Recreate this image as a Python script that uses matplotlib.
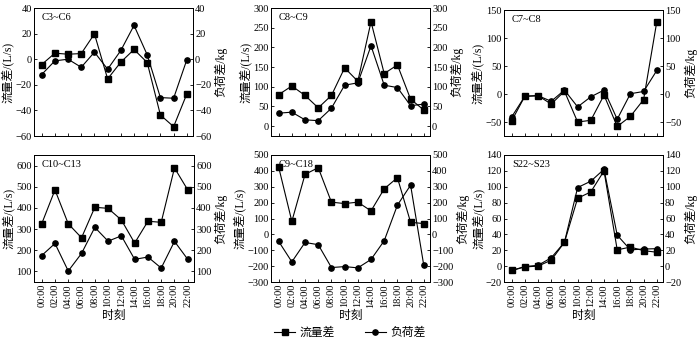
import matplotlib
matplotlib.use("Agg")
import matplotlib.pyplot as plt
from matplotlib.lines import Line2D
import numpy as np

plt.rcParams['font.family'] = ['Liberation Serif', 'Noto Sans CJK SC']
plt.rcParams['axes.unicode_minus'] = True

hours = ["00:00", "02:00", "04:00", "06:00", "08:00", "10:00",
         "12:00", "14:00", "16:00", "18:00", "20:00", "22:00"]

names = ["C3~C6", "C8~C9", "C7~C8", "C10~C13", "C9~C18", "S22~S23"]

flow_c3c6 = [-4.2, 4.7, 3.9, 4.4, 19.8, -15.4, -2.3, 7.6, -2.6, -43.6, -52.7, -27.2]
load_c3c6 = [-12, -1.3, 0, -6.3, 5.5, -7.8, 6.8, 26.4, 3.4, -30, -30.5, -0.5]

flow_c8c9 = [80, 102, 78, 46.5, 78, 148, 114, 265, 133.5, 155.5, 68.5, 41]
load_c8c9 = [33, 35.5, 16, 14, 45.6, 104, 110, 204, 104, 98, 52, 56]

flow_c7c8 = [-48, -4, -3, -18, 5, -50, -47, -2, -58, -40, -10, 129]
load_c7c8 = [-41, -4, -3, -13, 7, -23, -5, 7, -45, 0.5, 4.5, 42]

flow_c10c13 = [325, 485, 325, 259, 403, 398, 343, 234, 337, 332, 589, 485]
load_c10c13 = [175, 232, 102, 185, 308, 243, 268, 157, 168, 116, 242, 157]

flow_c9c18 = [424, 82, 378, 420, 203, 194, 203, 148, 287, 357, 76, 68]
load_c9c18 = [-44, -173, -51, -65, -209, -203, -211, -158, -40, 184, 310, -196]

flow_s22s23 = [-5.5, -1, 0, 7.5, 30, 85.5, 93.5, 120, 20.5, 24, 19.5, 17.5]
load_s22s23 = [-5.5, -0.5, 1, 10.5, 30, 99, 107, 122, 39, 20.5, 21.5, 22]

flows = [flow_c3c6, flow_c8c9, flow_c7c8, flow_c10c13, flow_c9c18, flow_s22s23]
loads = [load_c3c6, load_c8c9, load_c7c8, load_c10c13, load_c9c18, load_s22s23]

ylims = [(-60, 40), (-25, 300), (-75, 150), (50, 650), (-300, 500), (-20, 140)]
yticks = [np.arange(-60, 41, 20), np.arange(0, 301, 50), np.arange(-50, 151, 50),
          np.arange(100, 601, 100), np.arange(-300, 501, 100), np.arange(-20, 141, 20)]

# axes boxes in pixels: left, right, top, bottom
W, H = 700, 341
boxes = [(34, 193, 8, 136), (271, 430, 8, 136), (504, 663, 10, 136),
         (34, 194, 155, 282), (271, 430, 155, 282), (504, 663, 155, 282)]

fig = plt.figure(figsize=(7, 3.41), dpi=100)
x = np.arange(len(hours))
fs = 7.5
lfs = 8.5

for i in range(6):
    l, r, t, b = boxes[i]
    ax = fig.add_axes([l / W, 1 - b / H, (r - l) / W, (b - t) / H])
    ax2 = ax.twinx()
    ax.plot(x, flows[i], '-s', color='black', lw=0.8, ms=3.8)
    ax.plot(x, loads[i], '-o', color='black', lw=0.8, ms=3.8)
    ax.set_xlim(-0.58, 11.47)
    ax.set_ylim(*ylims[i])
    ax2.set_ylim(*ylims[i])
    ax.set_yticks(yticks[i])
    ax2.set_yticks(yticks[i])
    ax.set_xticks(x)
    ax.tick_params(direction='in', labelsize=fs, length=2.5, width=0.6, pad=1.5)
    ax2.tick_params(direction='in', labelsize=fs, length=2.5, width=0.6, pad=1.5)
    ax.set_ylabel("流量差/(L/s)", fontsize=lfs, labelpad=1)
    ax2.set_ylabel("负荷差/kg", fontsize=lfs, labelpad=2)
    ax.text(0.05, 0.96, names[i], transform=ax.transAxes, fontsize=fs,
            va='top', ha='left')
    for a in (ax, ax2):
        for s in a.spines.values():
            s.set_linewidth(0.7)
    if i < 3:
        ax.set_xticklabels([])
    else:
        ax.set_xticklabels(hours, rotation=90)
        ax.set_xlabel("时刻", fontsize=lfs, labelpad=2)

handles = [Line2D([], [], color='black', marker='s', lw=0.8, ms=3.8),
           Line2D([], [], color='black', marker='o', lw=0.8, ms=3.8)]
fig.legend(handles, ["流量差", "负荷差"], loc='center', bbox_to_anchor=(0.5, 1 - 333 / H),
           ncol=2, frameon=False, fontsize=lfs, handlelength=1.8, columnspacing=2.5,
           handletextpad=0.4)

fig.savefig("out.png", dpi=100)
